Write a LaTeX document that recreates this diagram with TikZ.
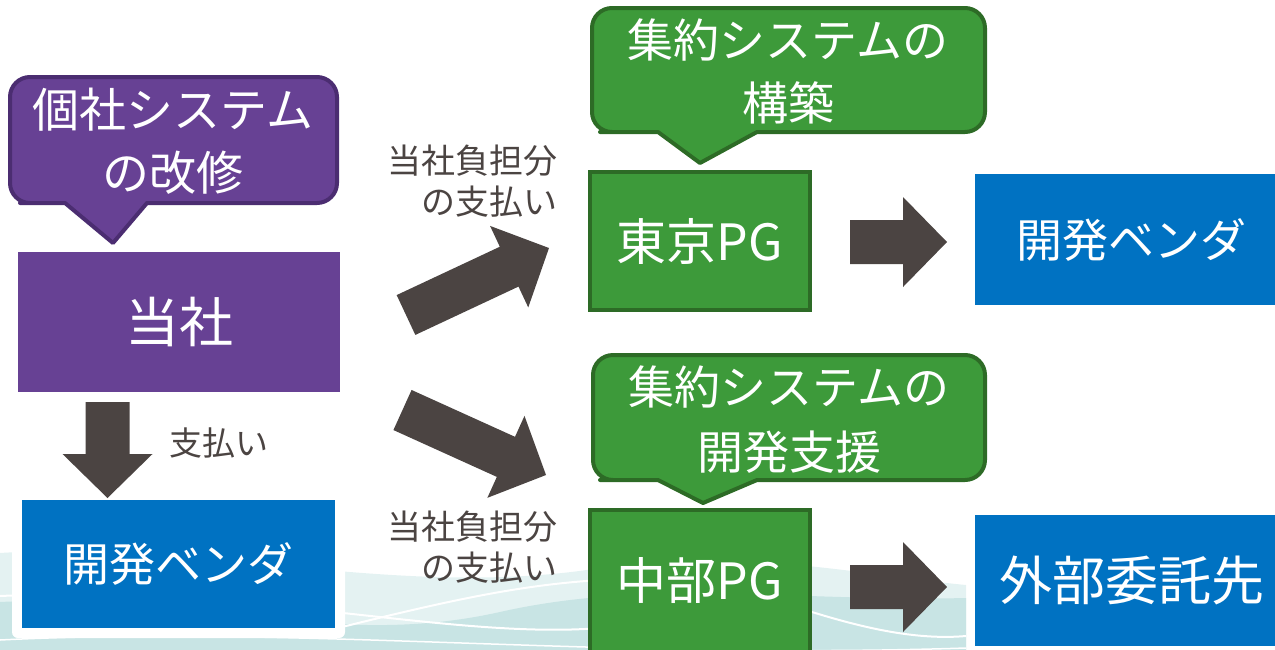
\documentclass[tikz,border=0pt]{standalone}
\usepackage{fontspec}
\setmainfont{Noto Sans CJK JP}
\usetikzlibrary{calc}
\definecolor{pF}{HTML}{674194}
\definecolor{pD}{HTML}{4B2D71}
\definecolor{gF}{HTML}{3D9A3A}
\definecolor{gD}{HTML}{2D6B26}
\definecolor{bF}{HTML}{0072C2}
\definecolor{aC}{HTML}{4B4442}
\definecolor{wvA}{HTML}{E4F2F2}
\definecolor{wvB}{HTML}{C8E4E4}
\newcommand\fsz[2]{\fontsize{#1}{#2}\selectfont}
% block arrow from coordinate #1 to coordinate #2
\newcommand\blockarr[2]{%
  \coordinate (#1-b) at ($(#2)!44pt!(#1)$);
  \fill[arrowfill] ($(#1)!22pt!90:(#2)$) -- ($(#1-b)!22pt!90:(#2)$) -- ($(#1-b)!45pt!90:(#2)$)
    -- (#2) -- ($(#1-b)!45pt!-90:(#2)$) -- ($(#1-b)!22pt!-90:(#2)$) -- ($(#1)!22pt!-90:(#2)$) -- cycle;}
\tikzset{
  arrowfill/.style={fill=aC},
  pbox/.style={fill=pF, text=white, inner sep=0pt},
  gbox/.style={fill=gF, draw=gD, line width=4pt, text=white, inner sep=0pt},
  bbox/.style={fill=bF, text=white, inner sep=0pt},
  pcall/.style={fill=pF, draw=pD, line width=4pt, line join=round},
  gcall/.style={fill=gF, draw=gD, line width=4pt, line join=round},
  ctext/.style={text=white, align=center, inner sep=0pt},
  lbl/.style={text=aC, align=right, inner sep=0pt, font=\fsz{34}{41}},
}
\begin{document}
\begin{tikzpicture}[x=1pt,y=-1pt]
\useasboundingbox (0,0) rectangle (1275,649);
% background waves
\fill[wvA] (0,553) .. controls (200,540) and (400,600) .. (600,568) .. controls (750,548) and (860,575) .. (966,585) -- (966,660) -- (0,660) -- cycle;
\fill[wvB] (0,602) .. controls (200,592) and (330,650) .. (500,612) .. controls (650,578) and (800,602) .. (966,598) -- (966,660) -- (0,660) -- cycle;
\draw[white, line width=2pt] (0,596) .. controls (250,585) and (450,640) .. (600,628);
\draw[white, line width=2pt] (330,630) .. controls (450,600) and (520,585) .. (600,580);
\draw[white, line width=2pt] (812,612) .. controls (870,630) and (920,640) .. (966,636);
\draw[white, line width=1.5pt] (0,640) .. controls (300,625) and (600,660) .. (966,648);
\fill[white, rounded corners=6pt] (12,490) rectangle (345,638);

% left column
\draw[pcall] (65,203) -- (113,243) -- (147,203) -- (200,203) [rounded corners=20pt] -- (337,203) -- (337,77) -- (10,77) -- (10,203) -- (40,203) [sharp corners] -- cycle;
\node[ctext, font=\fsz{47}{63}] (kosha) at (173,141) {個社システム\\の改修};
\node[pbox, minimum width=322pt, minimum height=140pt, font=\fsz{54}{60}] (tosha) at (179,322) {当社};
\node[bbox, minimum width=313pt, minimum height=128pt, font=\fsz{46}{50}] (devL) at (178.5,564) {開発ベンダ};
\coordinate (d1s) at (107.5,402);
\coordinate (d1e) at (107.5,498);
\blockarr{d1s}{d1e}
\node[lbl, font=\fsz{33}{40}] (pay) at (219,443) {支払い};

% middle column
\draw[gcall] (658,132) -- (700,163) -- (757,132) -- (800,132) [rounded corners=20pt] -- (985,132) -- (985,8) -- (592,8) -- (592,132) -- (620,132) [sharp corners] -- cycle;
\node[ctext, font=\fsz{46}{63}] (kouchiku) at (788,71) {集約システムの\\構築};
\node[gbox, minimum width=220pt, minimum height=138pt, font=\fsz{50}{56}] (tokyo) at (700,241) {東京PG};
\draw[gcall] (658,480) -- (703,503) -- (757,480) -- (800,480) [rounded corners=20pt] -- (985,480) -- (985,355) -- (593,355) -- (593,480) -- (620,480) [sharp corners] -- cycle;
\node[ctext, font=\fsz{46}{65}] (shien) at (789,420) {集約システムの\\開発支援};
\node[gbox, minimum width=220pt, minimum height=142pt, font=\fsz{50}{56}] (chubu) at (700,581) {中部PG};

\node[lbl, anchor=east] (lblA) at (558,181) {当社負担分\\の支払い};
\node[lbl, anchor=east] (lblB) at (558,547) {当社負担分\\の支払い};
\coordinate (u1s) at (406,315);
\coordinate (u1e) at (549,248);
\blockarr{u1s}{u1e}
\coordinate (l1s) at (402.5,410);
\coordinate (l1e) at (546,475);
\blockarr{l1s}{l1e}

% right column
\node[bbox, minimum width=313pt, minimum height=131pt, font=\fsz{46}{50}] (devR) at (1131.5,239.5) {開発ベンダ};
\node[bbox, minimum width=313pt, minimum height=131pt, font=\fsz{53}{58}] (gaibu) at (1131.5,580.5) {外部委託先};
\coordinate (r1s) at (850,242);
\coordinate (r1e) at (947,242);
\blockarr{r1s}{r1e}
\coordinate (r2s) at (850,587);
\coordinate (r2e) at (947,587);
\blockarr{r2s}{r2e}
\end{tikzpicture}
\end{document}
